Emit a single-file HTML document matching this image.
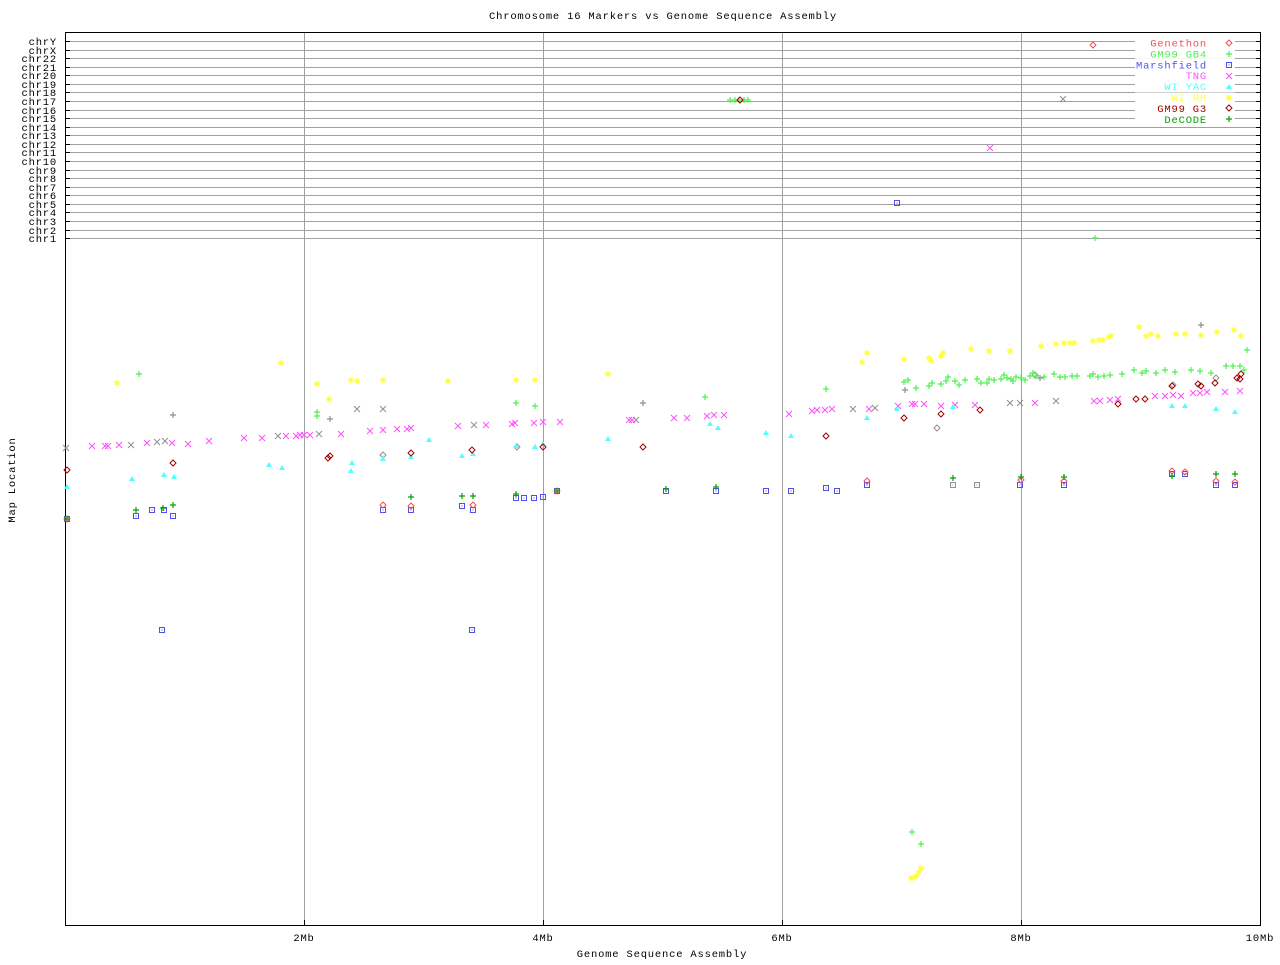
<!DOCTYPE html>
<html><head><meta charset="utf-8"><style>
html,body{margin:0;padding:0;background:#fff;}
svg text{font-family:"Liberation Mono","DejaVu Sans Mono",monospace;font-size:10.5px;letter-spacing:0.8px;}
</style></head><body>
<svg id="s" width="1280" height="960" viewBox="0 0 1280 960" xmlns="http://www.w3.org/2000/svg">
<rect width="1280" height="960" fill="#fff"/>
<text x="663" y="19" text-anchor="middle">Chromosome 16 Markers vs Genome Sequence Assembly</text>
<text x="662" y="957" text-anchor="middle">Genome Sequence Assembly</text>
<text transform="translate(15,480) rotate(-90)" text-anchor="middle">Map Location</text>
<g id="grid" stroke="#a0a0a0" stroke-width="1"></g>
<g id="lab"></g>
<rect x="65.5" y="32.5" width="1195" height="893" fill="none" stroke="#000" stroke-width="1"/>
<g id="pts"></g>
<g id="leg"></g>
</svg>
<script>
var NS="http://www.w3.org/2000/svg";
function el(t,a,p,txt){var e=document.createElementNS(NS,t);for(var k in a)e.setAttribute(k,a[k]);if(txt)e.textContent=txt;document.getElementById(p).appendChild(e);return e;}
var chrs=["chrY","chrX","chr22","chr21","chr20","chr19","chr18","chr17","chr16","chr15","chr14","chr13","chr12","chr11","chr10","chr9","chr8","chr7","chr6","chr5","chr4","chr3","chr2","chr1"];
for(var i=0;i<24;i++){var y=Math.round(41+i*8.57)+0.5;
 el("line",{x1:66,y1:y,x2:1260,y2:y},"grid");
 el("line",{x1:66,y1:y,x2:70,y2:y,stroke:"#000"},"lab");
 el("line",{x1:1256,y1:y,x2:1260,y2:y,stroke:"#000"},"lab");
 el("text",{x:57,y:y+3.5,"text-anchor":"end"},"lab",chrs[i]);}
[[304,"2Mb"],[543,"4Mb"],[782,"6Mb"],[1021,"8Mb"],[1260,"10Mb"]].forEach(function(t){
 el("line",{x1:t[0]+0.5,y1:33,x2:t[0]+0.5,y2:926},"grid");
 el("line",{x1:t[0]+0.5,y1:920,x2:t[0]+0.5,y2:926,stroke:"#000"},"lab");
 el("text",{x:t[0],y:941,"text-anchor":"middle"},"lab",t[1]);});
function mk(type,x,y,c,g){g=g||"pts";var s=c;
 if(type=="d")el("path",{d:"M"+x+" "+(y-3)+"L"+(x+3)+" "+y+"L"+x+" "+(y+3)+"L"+(x-3)+" "+y+"Z",fill:"none",stroke:s},g);
 else if(type=="p")el("path",{d:"M"+(x-3)+" "+y+"H"+(x+3)+"M"+x+" "+(y-3)+"V"+(y+3),stroke:s,"stroke-width":1.2},g);
 else if(type=="s"){el("rect",{x:x-2.5,y:y-2.5,width:5,height:5,fill:"none",stroke:s},g);el("rect",{x:x-0.5,y:y-0.5,width:1,height:1,fill:s},g);}
 else if(type=="x")el("path",{d:"M"+(x-3)+" "+(y-3)+"L"+(x+3)+" "+(y+3)+"M"+(x+3)+" "+(y-3)+"L"+(x-3)+" "+(y+3),stroke:s},g);
 else if(type=="t")el("path",{d:"M"+x+" "+(y-3)+"L"+(x+3)+" "+(y+2)+"L"+(x-3)+" "+(y+2)+"Z",fill:s},g);
 else if(type=="a")el("path",{d:"M"+(x-3)+" "+y+"H"+(x+3)+"M"+x+" "+(y-3)+"V"+(y+3)+"M"+(x-2)+" "+(y-2)+"L"+(x+2)+" "+(y+2)+"M"+(x+2)+" "+(y-2)+"L"+(x-2)+" "+(y+2),stroke:s,"stroke-width":1.2},g);}
function P(s){return s.trim().split(/\s*;\s*/).map(function(q){return q.split(",").map(Number);});}
var C={gen:"#f05050",gb4:"#50f050",mar:"#5050f0",tng:"#ff50ff",yac:"#50ffff",rh:"#ffff40",g3:"#a00000",dec:"#00a000",gr:"#909090"};
var D=[
["x",C.gr,"66,448;131,445;157,442;165,441;278,436;319,434;357,409;383,409;474,425;636,420;853,409;875,408;1010,403;1020,403;1056,401;1063,99"],
["p",C.gr,"173,415;330,419;643,403;905,390;1201,325;1040,378"],
["d",C.gr,"383,455;517,447;1035,375;1216,378;1173,385;937,428"],
["s",C.gr,"953,485;977,485"],
["x",C.tng,"92,446;105,446;108,446;119,445;147,443;172,443;188,444;209,441;244,438;262,438;286,436;296,436;300,435;304,435;310,435;341,434;370,431;383,430;397,429;407,429;411,428;458,426;486,425;512,424;515,423;534,423;543,422;560,422;629,420;632,420;674,418;687,418;707,416;714,415;724,415;789,414;812,411;817,410;825,410;832,409;869,409;898,406;912,404;915,404;924,404;941,406;955,405;975,405;1035,403;1094,401;1100,401;1110,400;1118,399;1155,396;1165,396;1173,395;1181,396;1193,393;1200,393;1207,392;1225,392;1240,391;990,148"],
["p",C.gb4,"139,374;317,412;317,416;516,403;535,406;705,397;826,389;908,380;904,382;916,388;929,386;932,383;941,384;946,381;948,377;955,381;959,385;965,380;977,379;981,383;987,383;989,379;994,380;1001,379;1004,375;1007,378;1011,379;1013,381;1016,377;1021,378;1025,380;1030,376;1033,373;1036,376;1044,377;1054,374;1060,377;1065,377;1072,376;1077,376;1090,376;1093,374;1098,377;1104,376;1110,375;1122,374;1134,370;1142,373;1146,371;1156,373;1165,370;1175,372;1191,370;1200,371;1211,373;1226,366;1233,366;1240,366;1244,370;1247,350;1095,238;730,100;735,100;739,100;744,100;748,100;912,832;921,844"],
["s",C.mar,"67,519;136,516;152,510;164,510;173,516;162,630;383,510;411,510;462,506;473,510;472,630;516,498;524,498;534,498;543,497;557,491;666,491;716,491;766,491;791,491;826,488;837,491;867,485;1020,485;1064,485;1172,474;1185,474;1216,485;1235,485;897,203"],
["t",C.yac,"67,487;132,479;164,475;174,477;269,465;282,468;352,463;351,471;383,459;411,457;429,440;462,456;473,454;516,446;535,447;543,444;608,439;710,424;718,428;766,433;791,436;867,418;897,409;953,407;1172,406;1185,406;1216,409;1235,412"],
["a",C.rh,"117,383;281,363;317,384;329,399;351,380;357,381;383,380;448,381;516,380;535,380;608,374;862,362;867,353;904,359;929,358;931,361;941,356;943,353;971,349;989,351;1010,351;1041,346;1056,344;1064,343;1070,343;1074,343;1093,341;1099,340;1103,340;1109,337;1111,336;1139,327;1146,336;1151,334;1158,336;1176,334;1185,334;1201,335;1217,332;1234,330;1241,336;911,878;913,878;916,876;919,872;921,868"],
["d",C.g3,"67,470;173,463;328,458;330,456;411,453;472,450;543,447;643,447;826,436;904,418;941,414;980,410;1118,404;1136,399;1145,399;1172,386;1198,384;1201,386;1215,383;1237,378;1240,379;1241,374;740,100"],
["d",C.gen,"1093,45;383,505;411,506;473,505;557,491;867,481;1021,480;1064,481;1172,471;1185,472;1216,481;1235,482;67,519"],
["p",C.dec,"67,519;136,510;163,508;173,505;411,497;462,496;473,496;516,494;557,491;666,489;716,487;953,478;1021,477;1064,477;1172,476;1216,474;1235,474"]
];
D.forEach(function(d){P(d[2]).forEach(function(p){mk(d[0],p[0],p[1],d[1]);});});
var L=[["Genethon",C.gen,"d"],["GM99 GB4",C.gb4,"p"],["Marshfield",C.mar,"s"],["TNG",C.tng,"x"],["WI YAC",C.yac,"t"],["WI RH",C.rh,"a"],["GM99 G3",C.g3,"d"],["DeCODE",C.dec,"p"]];
L.forEach(function(l,i){var y=43+i*10.9;
 el("rect",{x:1135,y:y-5,width:100,height:10,fill:"#fff"},"leg");
 el("text",{x:1207,y:y+3.5,"text-anchor":"end",fill:l[1]},"leg",l[0]);
 mk(l[2],1229,Math.round(y),l[1],"leg");});
</script>
</body></html>
